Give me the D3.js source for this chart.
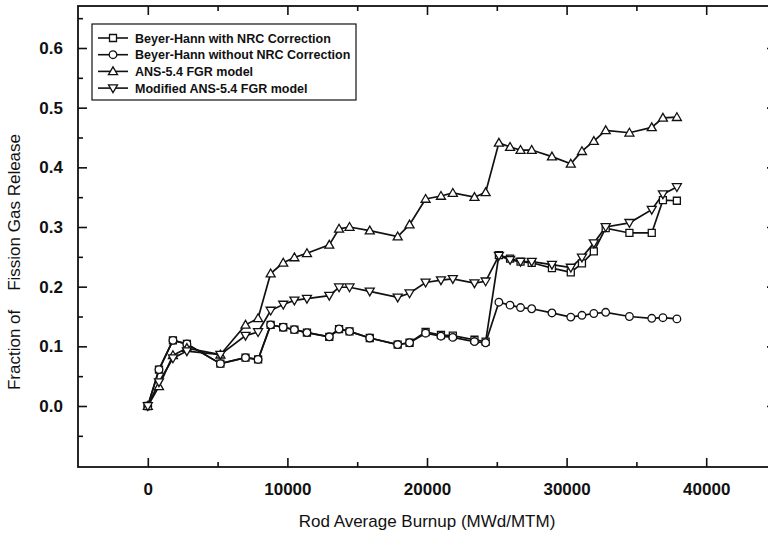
<!DOCTYPE html>
<html><head><meta charset="utf-8">
<script src="https://cdn.jsdelivr.net/npm/d3@7"></script>
<style>
html,body{margin:0;padding:0;background:#fff;}
svg text{font-family:"Liberation Sans",Arial,sans-serif;fill:#111;}
</style></head>
<body><svg id="c" width="768" height="534"></svg>
<script>
// ---- data ----
const burnup = [0, 800, 1800, 2800, 5200, 7000, 7900, 8800, 9700, 10500, 11400, 13000, 13700, 14450, 15900, 17900, 18750, 19900, 21000, 21850, 23400, 24200, 25150, 25950, 26700, 27500, 28950, 30300, 31100, 31950, 32800, 34500, 36100, 36900, 37900];
const bhWithNRC = [0, 0.061, 0.110, 0.104, 0.071, 0.081, 0.078, 0.136, 0.132, 0.128, 0.123, 0.116, 0.129, 0.125, 0.114, 0.103, 0.106, 0.124, 0.119, 0.118, 0.111, 0.108, 0.253, 0.247, 0.242, 0.240, 0.231, 0.224, 0.239, 0.259, 0.298, 0.290, 0.290, 0.345, 0.344];
const bhWithoutNRC = [0, 0.061, 0.110, 0.104, 0.071, 0.081, 0.078, 0.136, 0.132, 0.128, 0.123, 0.116, 0.129, 0.125, 0.114, 0.103, 0.106, 0.122, 0.117, 0.115, 0.108, 0.106, 0.174, 0.169, 0.165, 0.163, 0.156, 0.149, 0.152, 0.155, 0.157, 0.150, 0.147, 0.148, 0.146];
const ans54 = [0, 0.033, 0.085, 0.097, 0.086, 0.136, 0.147, 0.222, 0.240, 0.249, 0.256, 0.270, 0.297, 0.300, 0.294, 0.284, 0.304, 0.347, 0.352, 0.357, 0.350, 0.358, 0.441, 0.434, 0.429, 0.429, 0.418, 0.406, 0.427, 0.444, 0.462, 0.458, 0.467, 0.483, 0.484];
const modAns54 = [0, 0.040, 0.080, 0.092, 0.086, 0.118, 0.124, 0.160, 0.170, 0.177, 0.180, 0.185, 0.199, 0.199, 0.192, 0.182, 0.189, 0.207, 0.211, 0.213, 0.206, 0.209, 0.252, 0.245, 0.242, 0.242, 0.237, 0.232, 0.249, 0.273, 0.300, 0.307, 0.329, 0.355, 0.367];
const seriesNames = ["Beyer-Hann with NRC Correction", "Beyer-Hann without NRC Correction", "ANS-5.4 FGR model", "Modified ANS-5.4 FGR model"];
const seriesMarkers = ["square", "circle", "triUp", "triDown"];
const xTicks = [0, 10000, 20000, 30000, 40000];
const xMinor = [-5000, 5000, 15000, 25000, 35000, 45000];
const yTicks = [0.0, 0.1, 0.2, 0.3, 0.4, 0.5, 0.6];
const yMinor = [-0.05, 0.05, 0.15, 0.25, 0.35, 0.45, 0.55, 0.65];
const xTitle = "Rod Average Burnup (MWd/MTM)";
const yTitle = "Fraction of    Fission Gas Release";

// ---- layout ----
const L = 78, T = 6, R = 776, B = 467;
const x = d3.scaleLinear().domain([-5000, 45000]).range([L, R]);
const y = d3.scaleLinear().domain([0, 0.6]).range([406, 48]);

const svg = d3.select("#c");
const g = svg.append("g");

function styleAxis(sel){
  sel.select(".domain").remove();
  sel.selectAll(".tick line").attr("stroke","#111").attr("stroke-width",1.6);
  sel.selectAll(".tick text").attr("font-size",17).attr("font-weight","bold").attr("fill","#111");
}
// bottom
g.append("g").attr("transform",`translate(0,${B})`)
 .call(d3.axisBottom(x).tickValues(xTicks).tickSize(-9).tickPadding(16).tickFormat(d3.format("d")))
 .call(styleAxis);
g.append("g").attr("transform",`translate(0,${B})`)
 .call(d3.axisBottom(x).tickValues(xMinor.filter(v=>x(v)>L+2&&x(v)<R-2)).tickSize(-5).tickFormat(""))
 .call(styleAxis);
// top
g.append("g").attr("transform",`translate(0,${T})`)
 .call(d3.axisTop(x).tickValues(xTicks).tickSize(-9).tickFormat(""))
 .call(styleAxis);
g.append("g").attr("transform",`translate(0,${T})`)
 .call(d3.axisTop(x).tickValues(xMinor.filter(v=>x(v)>L+2&&x(v)<R-2)).tickSize(-5).tickFormat(""))
 .call(styleAxis);
// left
g.append("g").attr("transform",`translate(${L},0)`)
 .call(d3.axisLeft(y).tickValues(yTicks).tickSize(-9).tickPadding(15).tickFormat(d3.format(".1f")))
 .call(styleAxis);
g.append("g").attr("transform",`translate(${L},0)`)
 .call(d3.axisLeft(y).tickValues(yMinor.filter(v=>y(v)>T+2&&y(v)<B-2)).tickSize(-5).tickFormat(""))
 .call(styleAxis);
// right
g.append("g").attr("transform",`translate(${R},0)`)
 .call(d3.axisRight(y).tickValues(yTicks).tickSize(-9).tickFormat(""))
 .call(styleAxis);
g.append("g").attr("transform",`translate(${R},0)`)
 .call(d3.axisRight(y).tickValues(yMinor.filter(v=>y(v)>T+2&&y(v)<B-2)).tickSize(-5).tickFormat(""))
 .call(styleAxis);

// frame
g.append("rect").attr("x",L).attr("y",T).attr("width",R-L).attr("height",B-T)
 .attr("fill","none").attr("stroke","#111").attr("stroke-width",1.8);

// titles
svg.append("text").attr("x",(L+R)/2).attr("y",527).attr("text-anchor","middle")
  .attr("font-size",17).text(xTitle);
svg.append("text").attr("transform",`translate(20,${262}) rotate(-90)`).attr("text-anchor","middle")
  .attr("font-size",17).style("white-space","pre").text(yTitle);

// markers
function drawMarker(sel, type, cx, cy){
  const s = sel.append("path").attr("fill","#fff").attr("stroke","#111").attr("stroke-width",1.3);
  if(type==="square") s.attr("d",`M${cx-3.5},${cy-3.5}h7v7h-7z`);
  else if(type==="circle") s.attr("d",`M${cx+3.8},${cy}A3.8,3.8 0 1,1 ${cx-3.8},${cy}A3.8,3.8 0 1,1 ${cx+3.8},${cy}z`);
  else if(type==="triUp") s.attr("d",`M${cx},${cy-4.5}L${cx+4.5},${cy+3.3}L${cx-4.5},${cy+3.3}z`);
  else s.attr("d",`M${cx},${cy+4.5}L${cx+4.5},${cy-3.3}L${cx-4.5},${cy-3.3}z`);
}
const allSeries = [bhWithNRC, bhWithoutNRC, ans54, modAns54];
const line = d3.line().x(d=>x(d[0])).y(d=>y(d[1]));
const plot = g.append("g");
allSeries.forEach((vals,i)=>{
  const pts = burnup.map((b,j)=>[b, vals[j]]);
  plot.append("path").attr("d",line(pts)).attr("fill","none").attr("stroke","#111").attr("stroke-width",1.7);
});
allSeries.forEach((vals,i)=>{
  const mg = plot.append("g");
  burnup.forEach((b,j)=>drawMarker(mg, seriesMarkers[i], x(b), y(vals[j])));
});

// legend
const lg = svg.append("g");
lg.append("rect").attr("x",92).attr("y",24).attr("width",264).attr("height",76)
  .attr("fill","#fff").attr("stroke","#111").attr("stroke-width",1.2);
seriesNames.forEach((name,i)=>{
  const ly = 38 + i*16.7;
  lg.append("line").attr("x1",98).attr("x2",128).attr("y1",ly).attr("y2",ly).attr("stroke","#111").attr("stroke-width",1.6);
  drawMarker(lg, seriesMarkers[i], 113, ly);
  lg.append("text").attr("x",135).attr("y",ly+4.5).attr("font-size",12.5).attr("font-weight","bold").text(name);
});
</script></body></html>
